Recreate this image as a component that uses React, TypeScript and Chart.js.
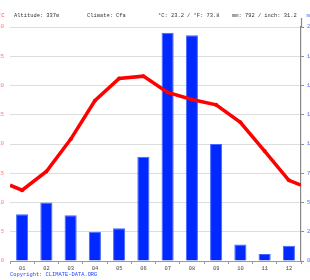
import React, { useEffect, useRef } from "react";
import { Chart, registerables } from "chart.js";

Chart.register(...registerables);

const months = ["01", "02", "03", "04", "05", "06", "07", "08", "09", "10", "11", "12"];
const temperature = [12.1, 15.3, 20.8, 27.4, 31.2, 31.6, 28.8, 27.6, 26.7, 23.7, 18.8, 13.8];
const precipitation = [40, 50, 39, 25, 28, 89, 195, 193, 100, 14, 6, 13];
const tempTicks = [0, 5, 10, 15, 20, 25, 30, 35, 40];
const precTicks = [0, 25, 50, 75, 100, 125, 150, 175, 200];
const headerTexts = ["Altitude: 337m", "Climate: Cfa", "°C: 23.2 / °F: 73.8", "mm: 792 / inch: 31.2"];
const copyright = "Copyright: CLIMATE-DATA.ORG";

const FONT = "'Liberation Mono', 'DejaVu Sans Mono', monospace";

export default function App() {
  const ref = useRef<HTMLCanvasElement>(null);

  useEffect(() => {
    const canvas = ref.current;
    if (!canvas) return;
    const edge = (temperature[0] + temperature[11]) / 2;
    const linePoints = [
      { x: 0.5, y: edge },
      ...temperature.map((t, i) => ({ x: i + 1, y: t })),
      { x: 12.5, y: edge },
    ];
    const radii = linePoints.map((_, i) => (i === 0 || i === linePoints.length - 1 ? 0 : 2));

    const textPlugin = {
      id: "texts",
      afterDraw(chart: any) {
        const ctx = chart.ctx;
        ctx.save();
        ctx.font = `5.4px ${FONT}`;
        ctx.textBaseline = "middle";
        ctx.fillStyle = "#333";
        const xs = [14, 87, 158, 232];
        headerTexts.forEach((t, i) => ctx.fillText(t, xs[i], 15.5));
        ctx.fillStyle = "#ff4444";
        ctx.textAlign = "right";
        ctx.fillText("°C", 4.5, 15.5);
        ctx.fillStyle = "#3355ff";
        ctx.textAlign = "left";
        ctx.fillText("mm", 306.5, 15.5);
        ctx.fillStyle = "#2244ff";
        ctx.fillText(copyright, 10, 274.5);
        ctx.strokeStyle = "#888";
        ctx.lineWidth = 1.2;
        ctx.beginPath();
        ctx.moveTo(301.5, 18);
        ctx.lineTo(301.5, 27);
        ctx.stroke();
        ctx.restore();
      },
    };

    const chart = new Chart(canvas, {
      type: "bar",
      data: {
        labels: months,
        datasets: [
          {
            type: "line",
            data: linePoints as any,
            xAxisID: "x2",
            yAxisID: "y",
            borderColor: "#ff0000",
            backgroundColor: "#ff0000",
            borderWidth: 3.5,
            pointRadius: radii,
            pointBorderWidth: 0,
            tension: 0,
            order: 0,
          } as any,
          {
            type: "bar",
            data: precipitation,
            xAxisID: "x",
            yAxisID: "y1",
            backgroundColor: "#0028ff",
            borderColor: "#4466ff",
            borderWidth: 1,
            barPercentage: 0.5,
            categoryPercentage: 1,
            grouped: false,
            order: 1,
          } as any,
        ],
      },
      options: {
        animation: false,
        responsive: false,
        maintainAspectRatio: false,
        layout: { padding: { top: 27, left: 0, right: 0, bottom: 0 } },
        plugins: { legend: { display: false }, tooltip: { enabled: false } },
        scales: {
          x: {
            type: "category",
            position: "bottom",
            offset: true,
            grid: { display: true, drawOnChartArea: false, drawTicks: true, tickLength: 3, color: "#999", offset: true },
            border: { display: true, color: "#999", width: 1 },
            ticks: { font: { family: FONT, size: 5.4 }, color: "#444", padding: 1, maxRotation: 0, autoSkip: false },
            afterFit(scale: any) {
              scale.height = 19;
            },
          },
          x2: {
            type: "linear",
            position: "bottom",
            min: 0.5,
            max: 12.5,
            offset: false,
            display: false,
            grid: { offset: false },
          },
          y: {
            type: "linear",
            position: "left",
            min: 0,
            max: 40,
            afterBuildTicks(scale: any) {
              scale.ticks = tempTicks.map((v) => ({ value: v }));
            },
            grid: { color: "#dddddd", lineWidth: 1, drawTicks: false },
            border: { display: false },
            ticks: { font: { family: FONT, size: 5.4 }, color: "#ff7777", padding: 6 },
            afterFit(scale: any) {
              scale.width = 10;
            },
          },
          y1: {
            type: "linear",
            position: "right",
            min: 0,
            max: 200,
            afterBuildTicks(scale: any) {
              scale.ticks = precTicks.map((v) => ({ value: v }));
            },
            grid: { drawOnChartArea: false, drawTicks: true, tickLength: 3, color: "#888" },
            border: { display: true, color: "#888", width: 1.2 },
            ticks: { font: { family: FONT, size: 5.4 }, color: "#5566ff", padding: 3 },
            afterFit(scale: any) {
              scale.width = 9;
            },
          },
        },
      },
      plugins: [textPlugin],
    });
    return () => chart.destroy();
  }, []);

  return (
    <div style={{ position: "fixed", left: 0, top: 0, width: 310, height: 280, background: "#fff" }}>
      <canvas ref={ref} width={310} height={280} style={{ width: 310, height: 280, display: "block" }} />
    </div>
  );
}
